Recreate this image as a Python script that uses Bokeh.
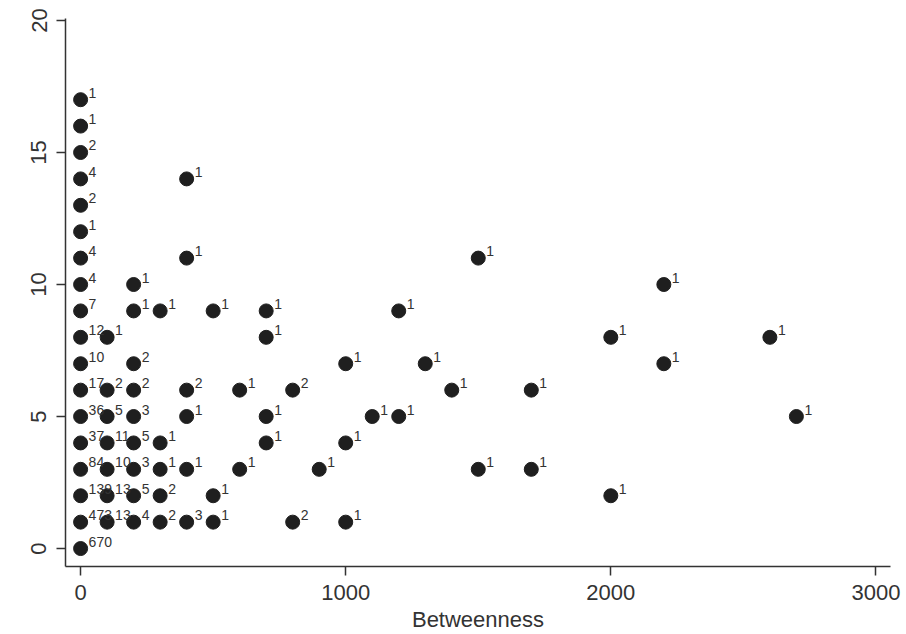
from bokeh.plotting import figure
from bokeh.models import ColumnDataSource, FixedTicker
from bokeh.core.properties import value
from bokeh.embed import file_html
from bokeh.resources import INLINE

# Betweenness value, degree, and number of nodes sharing that combination
betweenness = [
    0, 0, 0, 0, 0, 0, 0, 0, 0, 0, 0, 0, 0, 0, 0, 0, 0, 0,
    100, 100, 100, 100, 100, 100, 100,
    200, 200, 200, 200, 200, 200, 200, 200, 200,
    300, 300, 300, 300, 300,
    400, 400, 400, 400, 400, 400,
    500, 500, 500,
    600, 600,
    700, 700, 700, 700,
    800, 800,
    900,
    1000, 1000, 1000,
    1100,
    1200, 1200,
    1300,
    1400,
    1500, 1500,
    1700, 1700,
    2000, 2000,
    2200, 2200,
    2600,
    2700,
]
degree = [
    0, 1, 2, 3, 4, 5, 6, 7, 8, 9, 10, 11, 12, 13, 14, 15, 16, 17,
    1, 2, 3, 4, 5, 6, 8,
    1, 2, 3, 4, 5, 6, 7, 9, 10,
    1, 2, 3, 4, 9,
    1, 3, 5, 6, 11, 14,
    1, 2, 9,
    3, 6,
    4, 5, 8, 9,
    1, 6,
    3,
    1, 4, 7,
    5,
    5, 9,
    7,
    6,
    3, 11,
    3, 6,
    2, 8,
    7, 10,
    8,
    5,
]
counts = [
    670, 473, 139, 84, 37, 36, 17, 10, 12, 7, 4, 4, 1, 2, 4, 2, 1, 1,
    13, 13, 10, 11, 5, 2, 1,
    4, 5, 3, 5, 3, 2, 2, 1, 1,
    2, 2, 1, 1, 1,
    3, 1, 1, 2, 1, 1,
    1, 1, 1,
    1, 1,
    1, 1, 1, 1,
    2, 2,
    1,
    1, 1, 1,
    1,
    1, 1,
    1,
    1,
    1, 1,
    1, 1,
    1, 1,
    1, 1,
    1,
    1,
]
x_ticks = [0, 1000, 2000, 3000]
y_ticks = [0, 5, 10, 15, 20]

source = ColumnDataSource(dict(
    x=betweenness, y=degree, label=[str(c) for c in counts]
))

p = figure(
    width=906, height=634,
    x_range=(-57, 3055), y_range=(-0.68, 20.075),
    output_backend="svg", toolbar_location=None,
    min_border_left=65, min_border_right=16,
    min_border_top=18, min_border_bottom=66,
)
p.background_fill_color = "white"
p.border_fill_color = "white"
p.outline_line_color = None
p.grid.visible = False

p.scatter("x", "y", source=source, size=14,
          fill_color="#1f1f1f", line_color="#1f1f1f")
p.text("x", "y", text="label", source=source,
       x_offset=8, y_offset=-7,
       text_font=value("Liberation Sans"), text_font_size="14px",
       text_color="#333333", text_baseline="middle", text_align="left")

p.xaxis.ticker = FixedTicker(ticks=x_ticks)
p.yaxis.ticker = FixedTicker(ticks=y_ticks)
p.xaxis.axis_label = "Betweenness"

for ax in (p.xaxis, p.yaxis):
    ax.axis_line_color = "#333333"
    ax.axis_line_width = 1.5
    ax.major_tick_line_color = "#333333"
    ax.major_tick_line_width = 1.5
    ax.major_tick_out = 9
    ax.major_tick_in = 0
    ax.minor_tick_line_color = None
    ax.major_label_text_font = "Liberation Sans"
    ax.major_label_text_font_size = "22px"
    ax.major_label_text_color = "#333333"
    ax.axis_label_text_font = "Liberation Sans"
    ax.axis_label_text_font_size = "22px"
    ax.axis_label_text_font_style = "normal"
    ax.axis_label_text_color = "#333333"

p.yaxis.major_label_orientation = "vertical"
p.yaxis.major_label_standoff = 10
p.xaxis.major_label_standoff = 9
p.xaxis.axis_label_standoff = 4

open("out.html", "w").write(file_html(p, INLINE))
